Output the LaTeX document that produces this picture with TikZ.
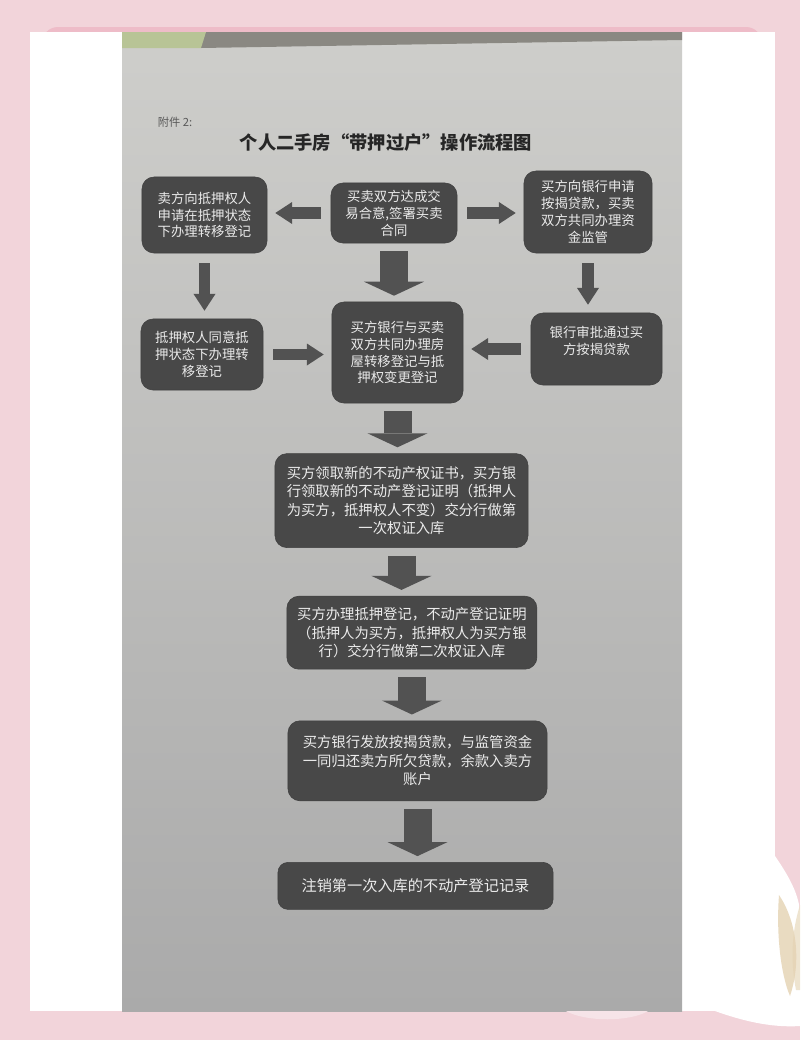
\documentclass[tikz,border=0pt]{standalone}
\usepackage{fontspec}
\newfontfamily\cjk{Noto Sans CJK SC}
\usetikzlibrary{arrows.meta,positioning,calc}

\definecolor{bgpink}{RGB}{242,212,218}
\definecolor{framepink}{RGB}{238,188,200}
\definecolor{paperhi}{RGB}{206,206,203}
\definecolor{paperlo}{RGB}{170,170,170}
\definecolor{boxgray}{RGB}{72,72,72}
\definecolor{arrowgray}{RGB}{82,82,82}
\definecolor{stripgray}{RGB}{138,136,130}
\definecolor{tapegreen}{RGB}{184,196,150}
\definecolor{petalbeige}{RGB}{228,210,178}
\definecolor{petalpink}{RGB}{246,228,232}

\begin{document}
\begin{tikzpicture}[
    x=0.025cm, y=-0.025cm,
    flowbox/.style={rectangle, rounded corners=0.3cm, draw=black!75, fill=boxgray, text=white!92!black, align=center, inner sep=2pt, font=\cjk\fontsize{9.5}{12}\selectfont},
    widebox/.style={flowbox, font=\cjk\fontsize{10.2}{13.2}\selectfont},
    sidearrow/.style={draw=arrowgray, line width=0.28cm, -{Triangle[width=0.55cm, length=0.42cm, line width=0pt]}, shorten <=0.25cm, shorten >=0.2cm},
    mainarrow/.style={draw=arrowgray, line width=0.7cm, -{Triangle[width=1.5cm, length=0.35cm, line width=0pt]}, shorten <=0.2cm, shorten >=0.15cm}
]

% photo background, white frame, sheet of paper
\fill[bgpink] (0,0) rectangle (800,1040);
\fill[framepink, rounded corners=0.4cm] (42,27) rectangle (762,60);
\fill[white] (30,32) rectangle (775,1011);
\shade[top color=paperhi, bottom color=paperlo] (122,32) rectangle (682,1011);
\fill[stripgray] (200,32) -- (682,32) -- (682,40) -- (201,48) -- cycle;
\fill[tapegreen] (122,32) -- (206,32) -- (201,48) -- (122,48) -- cycle;

% flower, bottom right
\fill[white] (775,856) .. controls (788,875) and (800,895) .. (800,915) -- (800,1026) .. controls (770,1028) and (740,1020) .. (715,1011) -- (775,1011) -- cycle;
\fill[petalbeige, opacity=0.8] (779,895) .. controls (796,920) and (802,960) .. (790,996) .. controls (781,975) and (776,935) .. (779,895) -- cycle;
\fill[petalbeige, opacity=0.6] (800,905) .. controls (792,930) and (790,960) .. (796,990) -- (800,990) -- cycle;
\fill[petalpink] (566,1011) .. controls (585,1022) and (630,1022) .. (648,1011) -- cycle;

% headings
\node[font=\cjk\fontsize{8}{9}\selectfont, text=black!65, anchor=west] (annex) at (153,122) {附件 2:};
\node[font=\cjk\bfseries\fontsize{13}{15}\selectfont, text=black!85] (title) at (386,143) {个人二手房“带押过户”操作流程图};

% top row
\node[flowbox, minimum width=3.15cm, minimum height=1.5cm] (deal) at (394,213) {买卖双方达成交\\易合意,签署买卖\\合同};
\node[flowbox, minimum width=3.125cm, minimum height=1.9cm] (sellerapply) at (204.5,215) {卖方向抵押权人\\申请在抵押状态\\下办理转移登记};
\node[flowbox, minimum width=3.2cm, minimum height=2.05cm] (buyerloan) at (588,212) {买方向银行申请\\按揭贷款，买卖\\双方共同办理资\\金监管};

% middle row
\node[flowbox, minimum width=3.05cm, minimum height=1.775cm] (mortgagee) at (202,354.5) {抵押权人同意抵\\押状态下办理转\\移登记};
\node[flowbox, minimum width=3.275cm, minimum height=2.525cm] (transfer) at (397.5,352.5) {买方银行与买卖\\双方共同办理房\\屋转移登记与抵\\押权变更登记};
\node[flowbox, minimum width=3.275cm, minimum height=1.8cm, text depth=0.45cm] (approve) at (596.5,349) {银行审批通过买\\方按揭贷款};

% lower chain
\node[widebox, minimum width=6.325cm, minimum height=2.35cm, below=1.25cm of transfer, xshift=0.1cm] (firstcert) {买方领取新的不动产权证书，买方银\\行领取新的不动产登记证明（抵押人\\为买方，抵押权人不变）交分行做第\\一次权证入库};
\node[widebox, minimum width=6.25cm, minimum height=1.825cm, below=1.2cm of firstcert, xshift=0.26cm] (secondcert) {买方办理抵押登记，不动产登记证明\\（抵押人为买方，抵押权人为买方银\\行）交分行做第二次权证入库};
\node[widebox, minimum width=6.475cm, minimum height=2cm, below=1.275cm of secondcert, xshift=0.14cm] (payoff) {买方银行发放按揭贷款，与监管资金\\一同归还卖方所欠贷款，余款入卖方\\账户};
\node[widebox, minimum width=6.875cm, minimum height=1.175cm, rounded corners=0.25cm, below=1.525cm of payoff, xshift=-0.05cm, font=\cjk\fontsize{10.8}{13}\selectfont] (cancel) {注销第一次入库的不动产登记记录};

% side arrows
\draw[sidearrow] (deal.west) -- (deal.west -| sellerapply.east);
\draw[sidearrow] (deal.east) -- (deal.east -| buyerloan.west);
\draw[sidearrow] (sellerapply.south) -- (sellerapply.south |- mortgagee.north);
\draw[sidearrow] (buyerloan.south) -- (buyerloan.south |- approve.north);
\draw[sidearrow] (mortgagee.east) -- (mortgagee.east -| transfer.west);
\draw[sidearrow] (approve.west) -- (approve.west -| transfer.east);

% main flow
\draw[mainarrow] (deal.south) -- (deal.south |- transfer.north);
\draw[mainarrow] (transfer.south) -- (transfer.south |- firstcert.north);
\draw[mainarrow] (firstcert.south) -- (firstcert.south |- secondcert.north);
\draw[mainarrow] (secondcert.south) -- (secondcert.south |- payoff.north);
\draw[mainarrow] (payoff.south) -- (payoff.south |- cancel.north);

\end{tikzpicture}
\end{document}
